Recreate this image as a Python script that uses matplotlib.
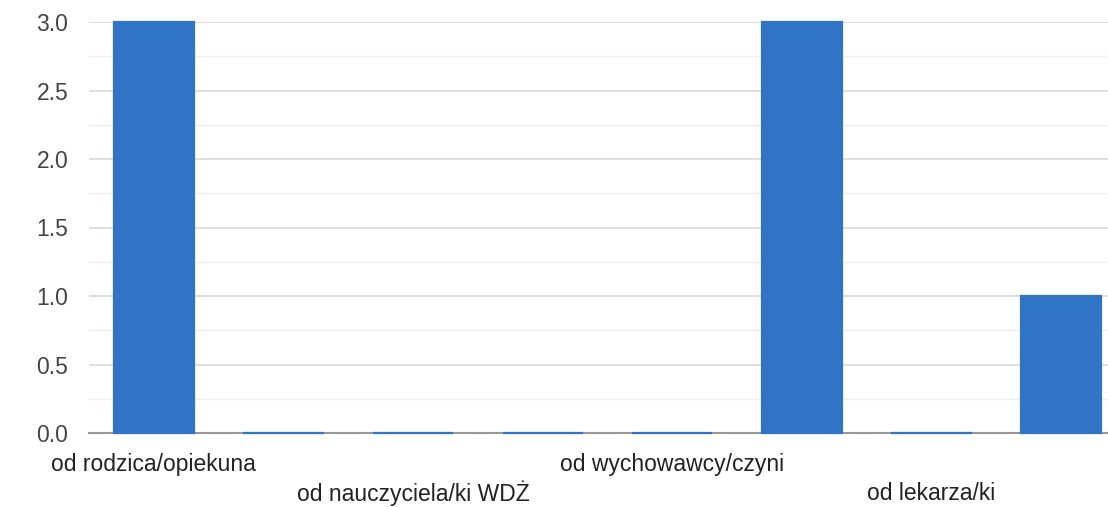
import matplotlib.pyplot as plt
import numpy as np

plt.rcParams['font.family'] = ['Liberation Sans', 'DejaVu Sans']

# only every other category label is visible in the chart
categories = ['od rodzica/opiekuna', '', 'od nauczyciela/ki WDŻ', '',
              'od wychowawcy/czyni', '', 'od lekarza/ki', '']
values = [3, 0, 0, 0, 0, 3, 0, 1]

bar_color = '#3074c5'

fig = plt.figure(figsize=(11.08, 5.07), dpi=100)
ax = fig.add_axes([89 / 1108, 74 / 507, 1037 / 1108, 411 / 507])

x = np.arange(len(values))
bars = ax.bar(x, values, width=0.62, color=bar_color, edgecolor=bar_color,
              linewidth=1.6, zorder=3)
for b in bars:
    b.set_clip_on(False)

ax.set_xlim(-0.5, len(values) - 0.5)
ax.set_ylim(0, 3)

# grid: major every 0.5, minor every 0.25
ax.set_yticks(np.arange(0, 3.01, 0.5))
ax.set_yticklabels([f'{v:.1f}' for v in np.arange(0, 3.01, 0.5)],
                   fontsize=16.5, color='#444444')
ax.set_yticks(np.arange(0.25, 3, 0.5), minor=True)
ax.yaxis.grid(True, which='major', color='#d4d4d4', linewidth=1.1, zorder=0)
ax.yaxis.grid(True, which='minor', color='#efefef', linewidth=1.0, zorder=0)
ax.tick_params(axis='y', which='both', length=0, pad=15)
ax.set_axisbelow(True)

for s in ['top', 'right', 'left']:
    ax.spines[s].set_visible(False)
ax.spines['bottom'].set_color('#999999')
ax.spines['bottom'].set_linewidth(1.5)
ax.spines['bottom'].set_zorder(2)

# staggered category labels
ax.set_xticks(x)
ax.set_xticklabels([])
ax.tick_params(axis='x', length=0)
for i, lab in enumerate(categories):
    if not lab:
        continue
    row = (i // 2) % 2
    ax.annotate(lab, xy=(i, 0), xycoords=('data', 'axes fraction'),
                xytext=(0, -31 - row * 29), textcoords='offset pixels',
                ha='center', va='center', fontsize=16.5, color='#222222')

fig.savefig('out.png', dpi=100)
